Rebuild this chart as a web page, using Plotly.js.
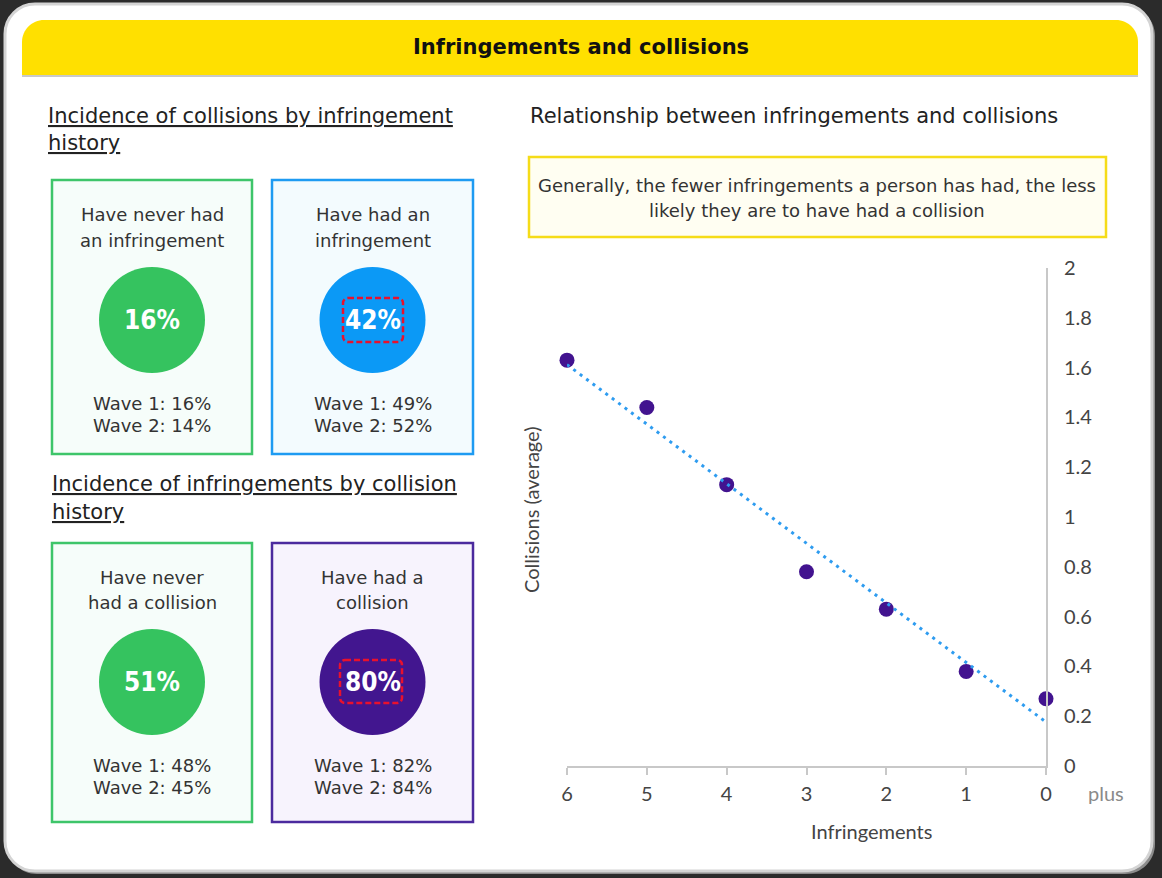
<!DOCTYPE html>
<html>
<head>
<meta charset="utf-8">
<script src="https://cdn.plot.ly/plotly-3.0.1.min.js"></script>
<style>
  html, body { margin: 0; padding: 0; background: #2b2b2b; }
  #chart { width: 1162px; height: 878px; }
</style>
</head>
<body>
<div id="chart"></div>
<script>
// ---------------- data ----------------
var pageTitle = "Infringements and collisions";
var infringements = [6, 5, 4, 3, 2, 1, 0];
var avgCollisions = [1.63, 1.44, 1.13, 0.78, 0.63, 0.38, 0.27];
var xTickVals = [6, 5, 4, 3, 2, 1, 0];
var xTickText = ["6", "5", "4", "3", "2", "1", "0"];
var chartTitle = "Relationship between infringements and collisions";
var noteLines = ["Generally, the fewer infringements a person has had, the less",
                 "likely they are to have had a collision"];
var xTitle = "Infringements";
var yTitle = "Collisions (average)";
var plusLabel = "plus";

var sectionTitles = [["Incidence of collisions by infringement", "history"],
                     ["Incidence of infringements by collision", "history"]];
var cardLabels = [["Have never had", "an infringement"], ["Have had an", "infringement"],
                  ["Have never", "had a collision"], ["Have had a", "collision"]];
var cardMain = [16, 42, 51, 80];
var cardWave1 = [16, 49, 48, 82];
var cardWave2 = [14, 52, 45, 84];
var cardHighlight = [false, true, false, true];

// ---------------- helpers (pixel -> paper) ----------------
var W = 1162, H = 878;
function px(x) { return (x / W).toFixed(5); }
function py(y) { return (1 - y / H).toFixed(5); }
function rr(x0, y0, x1, y1, r, topOnly) {
  var k = 0.4477; // control-point offset for quarter circle
  var rb = topOnly ? 0 : r;
  var s = "M" + px(x0 + r) + "," + py(y0) +
    " L" + px(x1 - r) + "," + py(y0) +
    " C" + px(x1 - r * k) + "," + py(y0) + " " + px(x1) + "," + py(y0 + r * k) + " " + px(x1) + "," + py(y0 + r) +
    " L" + px(x1) + "," + py(y1 - rb);
  if (rb) s += " C" + px(x1) + "," + py(y1 - rb * k) + " " + px(x1 - rb * k) + "," + py(y1) + " " + px(x1 - rb) + "," + py(y1);
  s += " L" + px(x0 + rb) + "," + py(y1);
  if (rb) s += " C" + px(x0 + rb * k) + "," + py(y1) + " " + px(x0) + "," + py(y1 - rb * k) + " " + px(x0) + "," + py(y1 - rb);
  s += " L" + px(x0) + "," + py(y0 + r) +
    " C" + px(x0) + "," + py(y0 + r * k) + " " + px(x0 + r * k) + "," + py(y0) + " " + px(x0 + r) + "," + py(y0) + " Z";
  return s;
}

// least-squares trend line from the data
var n = infringements.length, mx = 0, my = 0;
for (var i = 0; i < n; i++) { mx += infringements[i]; my += avgCollisions[i]; }
mx /= n; my /= n;
var sxy = 0, sxx = 0;
for (i = 0; i < n; i++) { sxy += (infringements[i] - mx) * (avgCollisions[i] - my); sxx += Math.pow(infringements[i] - mx, 2); }
var slope = sxy / sxx, intercept = my - slope * mx;
var trendX = [Math.max.apply(null, infringements), Math.min.apply(null, infringements)];
var trendY = trendX.map(function (v) { return intercept + slope * v; });

// ---------------- traces ----------------
var traces = [
  {
    type: "scatter", mode: "markers", x: infringements, y: avgCollisions,
    marker: { size: 15, color: "#42138f" }, cliponaxis: false, hoverinfo: "x+y", showlegend: false
  },
  {
    type: "scatter", mode: "lines", x: trendX, y: trendY,
    line: { color: "#2e9cf0", width: 3, dash: "3px,5px" }, cliponaxis: false, hoverinfo: "skip", showlegend: false
  }
];

// ---------------- decorations ----------------
var FONT = "DejaVu Sans, Verdana, sans-serif";
var FONT_W = "DejaVu Sans, Verdana, sans-serif";
var CHART_FONT = "Lato, Open Sans, sans-serif";

var shapes = [];
var annotations = [];

// card shadow + card
shapes.push({ type: "path", xref: "paper", yref: "paper", layer: "below", path: rr(7, 6, 1155, 874, 30), fillcolor: "#8c8c8c", line: { width: 0 } });
shapes.push({ type: "path", xref: "paper", yref: "paper", layer: "below", path: rr(5, 4, 1152, 871, 30), fillcolor: "#ffffff", line: { color: "#d4d4d4", width: 3 } });
// header bar
shapes.push({ type: "path", xref: "paper", yref: "paper", layer: "below", path: rr(22, 20, 1138, 75, 22, true), fillcolor: "#ffe000", line: { width: 0 } });
shapes.push({ type: "line", xref: "paper", yref: "paper", layer: "below", x0: px(22), x1: px(1138), y0: py(76), y1: py(76), line: { color: "#c9c9c9", width: 2 } });
annotations.push({ xref: "paper", yref: "paper", x: px(581), y: py(47), text: "<b>" + pageTitle + "</b>", showarrow: false, xanchor: "center", yanchor: "middle", font: { family: FONT, size: 21, color: "#111111" } });

// section titles (left)
var secPos = [[46, 116, 143], [50, 484, 512]];
sectionTitles.forEach(function (lines, s) {
  lines.forEach(function (t, j) {
    annotations.push({ xref: "paper", yref: "paper", x: px(secPos[s][0]), y: py(secPos[s][1 + j]), text: "<u>" + t + "</u>", showarrow: false, xanchor: "left", yanchor: "middle", font: { family: FONT, size: 21, color: "#222222" } });
  });
});

// cards
var cardBoxes = [[52, 180, 252, 454], [272, 180, 473, 454], [52, 543, 252, 822], [272, 543, 473, 822]];
var cardBorder = ["#3ec56a", "#1e9bf2", "#3ec56a", "#4b2a9e"];
var cardFill = ["#f6fdfa", "#f3fbfe", "#f6fdfa", "#f7f3fd"];
var circleFill = ["#35c35f", "#0b99f6", "#35c35f", "#42168f"];
var labelY = [[215, 240], [215, 240], [578, 602], [578, 602]];
var circleY = [320, 320, 682, 682];
var waveY = [[403, 426], [403, 426], [765, 788], [765, 788]];
var hlBox = [null, [343, 298, 403, 342], null, [340, 660, 402, 703]];

cardBoxes.forEach(function (b, c) {
  var cx = (b[0] + b[2]) / 2;
  shapes.push({ type: "rect", xref: "paper", yref: "paper", layer: "below", x0: px(b[0]), x1: px(b[2]), y0: py(b[1]), y1: py(b[3]), fillcolor: cardFill[c], line: { color: cardBorder[c], width: 2.5 } });
  shapes.push({ type: "circle", xref: "paper", yref: "paper", layer: "below", x0: px(cx - 53), x1: px(cx + 53), y0: py(circleY[c] - 53), y1: py(circleY[c] + 53), fillcolor: circleFill[c], line: { width: 0 } });
  if (cardHighlight[c]) {
    var h = hlBox[c];
    shapes.push({ type: "path", xref: "paper", yref: "paper", layer: "below", path: rr(h[0], h[1], h[2], h[3], 5), fillcolor: "rgba(0,0,0,0)", line: { color: "#e8112d", width: 2.5, dash: "6px,3px" } });
  }
  cardLabels[c].forEach(function (t, j) {
    annotations.push({ xref: "paper", yref: "paper", x: px(cx), y: py(labelY[c][j]), text: t, showarrow: false, xanchor: "center", yanchor: "middle", font: { family: FONT_W, size: 18, color: "#333333" } });
  });
  annotations.push({ xref: "paper", yref: "paper", x: px(cx), y: py(circleY[c]), text: "<b>" + cardMain[c] + "%</b>", showarrow: false, xanchor: "center", yanchor: "middle", font: { family: "DejaVu Sans Condensed, DejaVu Sans, sans-serif", size: 26, color: "#ffffff" } });
  annotations.push({ xref: "paper", yref: "paper", x: px(cx), y: py(waveY[c][0]), text: "Wave 1: " + cardWave1[c] + "%", showarrow: false, xanchor: "center", yanchor: "middle", font: { family: FONT_W, size: 18, color: "#333333" } });
  annotations.push({ xref: "paper", yref: "paper", x: px(cx), y: py(waveY[c][1]), text: "Wave 2: " + cardWave2[c] + "%", showarrow: false, xanchor: "center", yanchor: "middle", font: { family: FONT_W, size: 18, color: "#333333" } });
});

// right chart title + note
annotations.push({ xref: "paper", yref: "paper", x: px(528), y: py(116), text: chartTitle, showarrow: false, xanchor: "left", yanchor: "middle", font: { family: FONT, size: 21, color: "#222222" } });
shapes.push({ type: "rect", xref: "paper", yref: "paper", layer: "below", x0: px(529), x1: px(1106), y0: py(157), y1: py(237), fillcolor: "#fffef2", line: { color: "#f5dc18", width: 2.5 } });
noteLines.forEach(function (t, j) {
  annotations.push({ xref: "paper", yref: "paper", x: px(817), y: py(185 + j * 25), text: t, showarrow: false, xanchor: "center", yanchor: "middle", font: { family: FONT, size: 18, color: "#333333" } });
});

// axis titles and "plus"
annotations.push({ xref: "paper", yref: "paper", x: px(872), y: py(831), text: xTitle, showarrow: false, xanchor: "center", yanchor: "middle", font: { family: CHART_FONT, size: 20, color: "#444444" } });
annotations.push({ xref: "paper", yref: "paper", x: px(531), y: py(509), text: yTitle, textangle: -90, showarrow: false, xanchor: "center", yanchor: "middle", font: { family: CHART_FONT, size: 20, color: "#444444" } });
annotations.push({ xref: "paper", yref: "paper", x: px(1106), y: py(793), text: plusLabel, showarrow: false, xanchor: "center", yanchor: "middle", font: { family: CHART_FONT, size: 20, color: "#8a8a8a" } });

var layout = {
  width: W, height: H,
  margin: { l: 0, r: 0, t: 0, b: 0, pad: 0 },
  paper_bgcolor: "#2b2b2b",
  plot_bgcolor: "rgba(0,0,0,0)",
  showlegend: false,
  xaxis: {
    domain: [567 / W, 1046 / W], range: [6, 0], tickvals: xTickVals, ticktext: xTickText,
    showgrid: false, zeroline: false, showline: true, linecolor: "#c8c8c8", linewidth: 2,
    ticks: "outside", ticklen: 7, tickwidth: 2, tickcolor: "#c8c8c8", ticklabelstandoff: 2,
    tickfont: { family: CHART_FONT, size: 20, color: "#444444" }, fixedrange: true
  },
  yaxis: {
    domain: [1 - 766 / H, 1 - 268 / H], range: [0, 2], dtick: 0.2, side: "right", anchor: "x",
    showgrid: false, zeroline: false, showline: true, linecolor: "#c8c8c8", linewidth: 2,
    ticks: "", ticklabelstandoff: 12,
    tickfont: { family: CHART_FONT, size: 20, color: "#444444" }, fixedrange: true
  },
  shapes: shapes,
  annotations: annotations
};

Plotly.newPlot("chart", traces, layout, { displayModeBar: false, staticPlot: true });
</script>
</body>
</html>
